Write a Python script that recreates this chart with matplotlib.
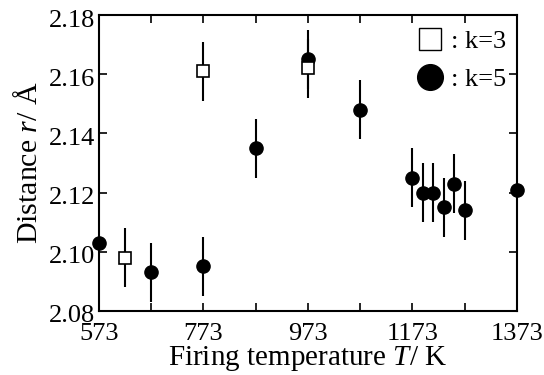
import numpy as np
import matplotlib as mpl
import matplotlib.pyplot as plt
from matplotlib.lines import Line2D
from matplotlib.transforms import ScaledTranslation

# data
T_k5 = [573, 673, 773, 873, 973, 1073, 1173, 1193, 1213, 1233, 1253, 1273, 1373]
r_k5 = [2.103, 2.093, 2.095, 2.135, 2.165, 2.148, 2.125, 2.120, 2.120, 2.115, 2.123, 2.114, 2.121]
err_k5 = [0.0, 0.010, 0.010, 0.010, 0.010, 0.010, 0.010, 0.010, 0.010, 0.010, 0.010, 0.010, 0.0]

T_k3 = [623, 773, 973]
r_k3 = [2.098, 2.161, 2.162]
err_k3 = [0.010, 0.010, 0.010]

x_ticks = [573, 673, 773, 873, 973, 1073, 1173, 1273, 1373]
x_labels = ['573', '', '773', '', '973', '', '1173', '', '1373']
y_ticks = [2.08, 2.10, 2.12, 2.14, 2.16, 2.18]

mpl.rcParams['font.family'] = ['Liberation Serif']
mpl.rcParams['mathtext.fontset'] = 'custom'
mpl.rcParams['mathtext.rm'] = 'Liberation Serif'
mpl.rcParams['mathtext.it'] = 'Liberation Serif:italic'

fig = plt.figure(figsize=(5.44, 3.75), dpi=100)
ax = fig.add_axes([0.182, 0.171, 0.768, 0.789])

ax.errorbar(T_k5, r_k5, yerr=err_k5, fmt='o', color='k', ms=9.5, elinewidth=1.5,
            capsize=0, zorder=3, clip_on=False)
ax.errorbar(T_k3, r_k3, yerr=err_k3, fmt='s', mfc='w', mec='k', color='k', ms=8,
            mew=1.2, elinewidth=1.5, capsize=0, zorder=4, clip_on=False)

ax.set_xlim(573, 1373)
ax.set_ylim(2.08, 2.18)
ax.set_xticks(x_ticks)
ax.set_xticklabels(x_labels)
ax.set_yticks(y_ticks)
ax.set_yticklabels(['%.2f' % v for v in y_ticks])
ax.tick_params(direction='in', top=True, right=True, length=6, width=1.2,
               labelsize=19)
ax.tick_params(axis='x', pad=9)
ax.tick_params(axis='y', pad=3)
# y labels sit a little below their ticks in the original
shift = ScaledTranslation(0, -3 / 100, fig.dpi_scale_trans)
for lab in ax.get_yticklabels():
    lab.set_transform(lab.get_transform() + shift)
for s in ax.spines.values():
    s.set_linewidth(1.5)

ax.set_xlabel('Firing temperature $T$/ K', fontsize=21, labelpad=-1)
ax.set_ylabel('Distance $r$/ Å', fontsize=21.5, labelpad=4)

handles = [Line2D([], [], ls='none', marker='s', mfc='w', mec='k', ms=16, mew=1.0),
           Line2D([], [], ls='none', marker='o', color='k', ms=18.5)]
ax.legend(handles, [': k=3', ': k=5'], loc='upper right', frameon=False,
          fontsize=19, handletextpad=0.2, labelspacing=0.55,
          borderaxespad=0.0, bbox_to_anchor=(1.0, 0.985), handlelength=1.2)

fig.savefig('out.png', dpi=100)
